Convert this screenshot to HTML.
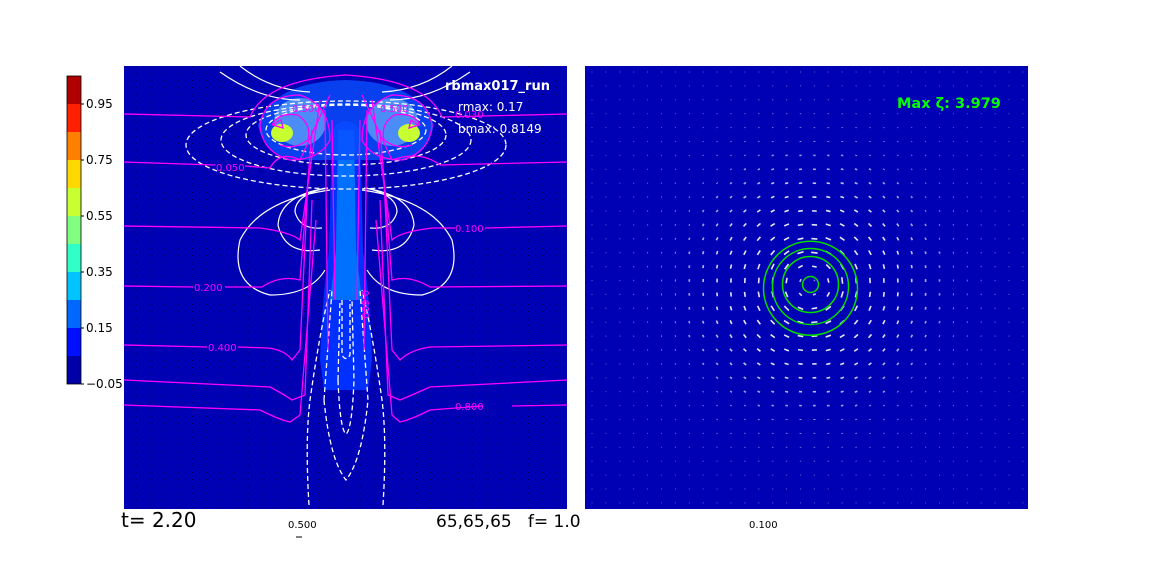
<!DOCTYPE html>
<html><head><meta charset="utf-8"><style>
html,body{margin:0;padding:0;background:#fff;width:1152px;height:576px;overflow:hidden}
svg{display:block;font-family:"DejaVu Sans","Liberation Sans",sans-serif}
</style></head><body>
<svg id="fig" width="1152" height="576" viewBox="0 0 1152 576">
<defs>
<pattern id="dots" width="7" height="7" patternUnits="userSpaceOnUse"><rect x="3" y="3" width="1" height="1" fill="#000" opacity="0.5"/></pattern>
<clipPath id="clipL"><rect x="124" y="66" width="443" height="443"/></clipPath>
</defs>
<g id="colorbar"></g>

<g clip-path="url(#clipL)">
<rect x="124" y="66" width="443" height="443" fill="#0000b4"/>
<rect x="124" y="66" width="443" height="443" fill="url(#dots)"/>
<path d="M332 130 Q346 112 360 130 L363 250 Q370 300 372 360 L368 390 L324 390 L320 360 Q322 300 329 250 Z" fill="#0030ff"/>
<path d="M338 130 L354 130 L356 250 L362 300 L330 300 L336 250 Z" fill="#0070ff"/>
<path d="M258 125 Q272 82 346 80 Q420 82 434 125 Q426 160 398 160 L294 160 Q264 155 258 125Z" fill="#0a50ff" opacity="0.8"/>
<ellipse cx="300" cy="122" rx="26" ry="24" fill="#a0e8ff" opacity="0.45"/>
<ellipse cx="392" cy="122" rx="26" ry="24" fill="#a0e8ff" opacity="0.45"/>
<ellipse cx="282" cy="133" rx="11" ry="9" fill="#c8ff30"/>
<ellipse cx="409" cy="133" rx="11" ry="9" fill="#c8ff30"/>
<g fill="none" stroke="#fff" stroke-width="1.3" stroke-dasharray="5,3">
<ellipse cx="346" cy="145" rx="160" ry="44"/>
<ellipse cx="346" cy="140" rx="125" ry="36"/>
<ellipse cx="346" cy="135" rx="100" ry="30"/>
<ellipse cx="346" cy="130" rx="80" ry="25"/>
<path d="M309 505 Q305 440 310 400 Q320 330 330 290 M383 505 Q387 440 382 400 Q372 330 362 290"/>
<path d="M324 400 Q330 460 346 480 Q362 460 368 400 L360 290 M324 400 L332 290"/>
<path d="M338 380 Q340 430 346 434 Q352 430 354 380 L352 300 M338 380 L340 300"/>
<path d="M342 300 L342 355 Q346 362 350 355 L350 300"/>
</g>
<g fill="none" stroke="#fff" stroke-width="1.2">
<path d="M330 190 Q260 200 240 240 Q230 285 270 295 Q310 295 325 270 M362 190 Q432 200 452 240 Q462 285 422 295 Q382 295 367 270"/>
<path d="M328 188 Q280 195 278 225 Q285 255 320 250 M364 188 Q412 195 414 225 Q407 255 372 250"/>
<path d="M326 188 Q295 195 295 212 Q300 230 322 228 M366 188 Q397 195 397 212 Q392 230 370 228"/>
<path d="M220 72 Q260 100 300 100 M470 72 Q430 100 390 100 M240 66 Q270 90 310 92 M452 66 Q422 90 382 92"/>
</g>
<g fill="none" stroke="#ff00ff" stroke-width="1.3">
<path d="M124 114 L250 117 Q265 80 346 75 Q427 80 442 117 L567 114"/>
<path d="M124 162 L215 165 M245 166 L270 168 Q280 150 300 160 L330 95 M567 162 L440 165 Q420 150 392 160 L362 95"/>
<path d="M124 226 L260 228 Q290 232 300 240 L320 100 M567 226 L485 228 M455 228 L432 228 Q400 232 392 240 L372 100"/>
<path d="M124 286 L193 287 M225 287 L262 287 Q280 275 300 280 L312 130 M567 286 L430 287 Q410 275 392 280 L380 130"/>
<path d="M124 345 L207 347 M238 347 L268 348 Q285 350 292 360 L300 350 L308 180 M567 345 L430 347 Q410 350 400 360 L392 350 L384 180"/>
<path d="M124 380 L270 387 Q285 395 292 400 L305 395 L312 200 M567 380 L430 387 Q412 395 400 400 L388 395 L380 200"/>
<path d="M124 405 L260 410 Q280 420 290 422 L300 415 L316 220 M567 405 L512 406 M482 406 L430 410 Q410 420 400 422 L392 415 L376 220"/>
<path d="M325 110 L328 350 M367 110 L364 350 M332 120 L335 300 M360 120 L357 300"/>
<path d="M260 125 Q265 95 300 95 Q330 105 330 140 Q320 160 290 160 Q262 152 260 125 M432 125 Q427 95 392 95 Q362 105 362 140 Q372 160 402 160 Q430 152 432 125"/>
<path d="M272 125 Q278 112 298 115 Q312 125 308 140 Q295 150 280 145 M420 125 Q414 112 394 115 Q380 125 384 140 Q397 150 412 145"/>
<path d="M273 125 L281 120 L283 128 Z M419 125 L411 120 L409 128 Z"/>
</g>
<g fill="#ff00ff" font-size="10">
<text x="216" y="171">0.050</text>
<text x="455" y="118">0.030</text>
<text x="455" y="232">0.100</text>
<text x="194" y="291">0.200</text>
<text x="208" y="351">0.400</text>
<text x="455" y="410">0.800</text>
<text x="292" y="112">0.500</text>
<text x="380" y="112">0.500</text>
<text x="0" y="0" transform="translate(362,290) rotate(90)">0.600</text>
</g>
</g>
<text x="445" y="90" fill="#fff" font-size="13" font-weight="bold">rbmax017_run</text>
<text x="458" y="111" fill="#fff" font-size="12">rmax: 0.17</text>
<text x="458" y="133" fill="#fff" font-size="12">bmax: 0.8149</text>

<g>
<rect x="585" y="66" width="443" height="443" fill="#0000b4"/>
<g id="quiver"></g>
<g id="rings"></g>
</g>
<text x="897" y="108" fill="#00ff00" font-size="14.5" font-weight="bold">Max ζ: 3.979</text>

<text x="121" y="527" font-size="20" fill="#000">t= 2.20</text>
<text x="288" y="528" font-size="10" fill="#000">0.500</text>
<line x1="296" y1="537" x2="302" y2="537" stroke="#000" stroke-width="1"/>
<text x="436" y="527" font-size="17" fill="#000" xml:space="preserve" style="white-space:pre">65,65,65   f= 1.0</text>
<text x="749" y="528" font-size="10" fill="#000">0.100</text>
</svg>
<script>
const cbLevels=[-0.05,0.05,0.15,0.25,0.35,0.45,0.55,0.65,0.75,0.85,0.95,1.05];
const cbColors=["#0000a8","#0010ff","#0068ff","#00c4ff","#30ffc8","#80ff80","#c8ff30","#ffd800","#ff8000","#ff2000","#b00000"];
const cbTicks=[-0.05,0.15,0.35,0.55,0.75,0.95];
const cbTickLabels=["−0.05","0.15","0.35","0.55","0.75","0.95"];
const ringLevels=[47,38,28,8];
const vortexCenter=[0.5,0.5];
const NS="http://www.w3.org/2000/svg";
const cbY=v=>384-(v+0.05)/1.1*308;
const cb=document.getElementById('colorbar');
for(let i=0;i<cbColors.length;i++){
 const r=document.createElementNS(NS,'rect');
 
 
 const y1=cbY(cbLevels[i+1]),y0=cbY(cbLevels[i]);
 r.setAttribute('x',67);r.setAttribute('y',y1);r.setAttribute('width',14);r.setAttribute('height',y0-y1);r.setAttribute('fill',cbColors[i]);
 cb.appendChild(r);
}
const fr=document.createElementNS(NS,'rect');


fr.setAttribute('x',67);fr.setAttribute('y',76);fr.setAttribute('width',14);fr.setAttribute('height',308);fr.setAttribute('fill','none');fr.setAttribute('stroke','#000');fr.setAttribute('stroke-width','0.8');
cb.appendChild(fr);
cbTicks.forEach((t,i)=>{
 const tx=document.createElementNS(NS,'text');
 
 
 tx.setAttribute('x',86);tx.setAttribute('y',cbY(t)+4);tx.setAttribute('font-size','12');tx.textContent=cbTickLabels[i];
 cb.appendChild(tx);
 const l=document.createElementNS(NS,'line');
 
 
 l.setAttribute('x1',81);l.setAttribute('x2',84);l.setAttribute('y1',cbY(t));l.setAttribute('y2',cbY(t));l.setAttribute('stroke','#000');
 cb.appendChild(l);
});
const px=x=>585+x*443, py=y=>66+y*443;
const cx=px(vortexCenter[0])+4, cy=py(vortexCenter[1])-3;
const q=document.getElementById('quiver');
for(let gy=0;gy<32;gy++)for(let gx=0;gx<32;gx++){
 const x=585+7+gx*13.9,y=72+gy*13.9;
 const dx=x-cx,dy=y-cy,r=Math.hypot(dx,dy)+1e-6;
 const m=Math.min(1,(r/30))*Math.exp(-(r*r)/(2*75*75));
 const L=1+6*m;
 const ux=-dy/r*L,uy=dx/r*L;
 const a=document.createElementNS(NS,'line');
 
 
 a.setAttribute('x1',x-ux/2);a.setAttribute('y1',y-uy/2);a.setAttribute('x2',x+ux/2);a.setAttribute('y2',y+uy/2);
 a.setAttribute('stroke','#fff');a.setAttribute('stroke-width',m>0.2?1.6:1);a.setAttribute('opacity',0.35+0.55*Math.min(1,m*2));
 q.appendChild(a);
}
const rg=document.getElementById('rings');
ringLevels.forEach(rr=>{
 const c=document.createElementNS(NS,'circle');
 
 
 c.setAttribute('cx',cx);c.setAttribute('cy',cy+(rr>10?(rr-28)*0.2:0));c.setAttribute('r',rr);c.setAttribute('fill','none');c.setAttribute('stroke','#00dd00');c.setAttribute('stroke-width','1.5');
 rg.appendChild(c);
});
</script>
</body></html>
